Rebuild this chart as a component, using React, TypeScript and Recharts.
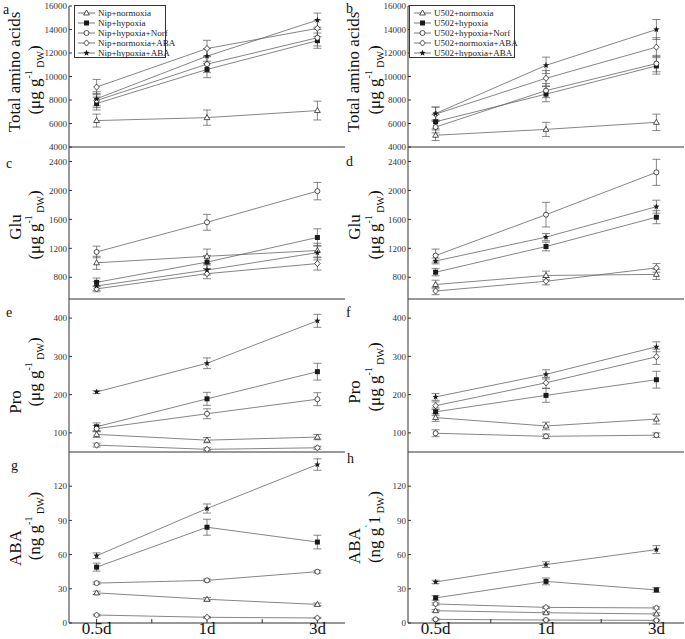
import React from "react";
import { LineChart, Line, XAxis, YAxis, ErrorBar, Legend } from "recharts";

const days = ["0.5d", "1d", "3d"];
const dayPos = [1, 2, 3];
const xTicks = [1, 1.5, 2, 2.5, 3];

const nipNames = ["Nip+normoxia", "Nip+hypoxia", "Nip+hypoxia+Norf", "Nip+normoxia+ABA", "Nip+hypoxia+ABA"];
const u502Names = ["U502+normoxia", "U502+hypoxia", "U502+hypoxia+Norf", "U502+normoxia+ABA", "U502+hypoxia+ABA"];
const shapes = ["triangle", "square", "circle", "diamond", "star"];

// a: Nip total amino acids
const aNormoxia = [6250, 6500, 7100];
const aHypoxia = [7700, 10600, 13050];
const aNorf = [7950, 11050, 13300];
const aNormABA = [9100, 12380, 14100];
const aHypABA = [8100, 11730, 14800];
const aErr = [[550, 650, 800], [550, 700, 650], [600, 700, 700], [650, 700, 700], [600, 650, 600]];

// b: U502 total amino acids
const bNormoxia = [5000, 5500, 6100];
const bHypoxia = [6150, 8500, 10900];
const bNorf = [5700, 8800, 11100];
const bNormABA = [6800, 9850, 12500];
const bHypABA = [6850, 10950, 14000];
const bErr = [[450, 600, 700], [600, 650, 700], [500, 600, 700], [600, 650, 800], [550, 700, 850]];

// c: Nip Glu
const cNormoxia = [1000, 1090, 1170];
const cHypoxia = [730, 1010, 1350];
const cNorf = [1150, 1560, 1990];
const cNormABA = [640, 850, 990];
const cHypABA = [680, 900, 1140];
const cErr = [[90, 100, 100], [60, 90, 120], [80, 110, 120], [40, 70, 90], [60, 70, 100]];

// d: U502 Glu
const dNormoxia = [700, 825, 840];
const dHypoxia = [870, 1225, 1630];
const dNorf = [1100, 1665, 2250];
const dNormABA = [610, 745, 930];
const dHypABA = [1025, 1355, 1775];
const dErr = [[60, 60, 70], [50, 60, 90], [90, 170, 180], [50, 50, 60], [40, 50, 90]];

// e: Nip Pro
const eNormoxia = [96, 81, 89];
const eHypoxia = [116, 189, 260];
const eNorf = [111, 150, 188];
const eNormABA = [68, 57, 61];
const eHypABA = [207, 282, 393];
const eErr = [[8, 7, 7], [10, 17, 22], [8, 13, 17], [5, 4, 4], [4, 14, 17]];

// f: U502 Pro
const fNormoxia = [140, 118, 136];
const fHypoxia = [155, 198, 239];
const fNorf = [99, 91, 94];
const fNormABA = [171, 231, 299];
const fHypABA = [194, 253, 325];
const fErr = [[10, 10, 13], [10, 18, 22], [9, 6, 6], [10, 14, 20], [9, 12, 13]];

// g: Nip ABA
const gNormoxia = [26.4, 20.8, 16.3];
const gHypoxia = [49, 84, 71];
const gNorf = [35, 37.4, 45];
const gNormABA = [7, 5, 4.4];
const gHypABA = [59, 100.4, 139];
const gErr = [[1.5, 1.5, 1.2], [3.5, 7, 6], [1, 1.2, 1.2], [0.8, 0.8, 0.6], [2.5, 4, 5]];

// h: U502 ABA
const hNormoxia = [10.8, 9, 7.9];
const hHypoxia = [22, 36.5, 29];
const hNorf = [3.2, 2.6, 2.3];
const hNormABA = [16.7, 13.7, 13.2];
const hHypABA = [36, 51.2, 64.4];
const hErr = [[1, 1, 1], [2, 3, 2], [0.6, 0.5, 0.5], [1, 1, 1], [1.5, 2.5, 3.5]];

const aminoTicks = [4000, 6000, 8000, 10000, 12000, 14000, 16000];
const gluTicks = [800, 1200, 1600, 2000, 2400];
const proTicks = [100, 200, 300, 400];
const abaTicks = [0, 30, 60, 90, 120];

const serif = "'Liberation Serif', 'Times New Roman', Times, serif";
const ink = "#1a1a1a";

function Marker({ shape, cx, cy }: { shape: string; cx: number; cy: number }) {
  if (shape === "triangle")
    return <polygon points={`${cx},${cy - 3} ${cx - 2.9},${cy + 2} ${cx + 2.9},${cy + 2}`} fill="#fff" stroke={ink} strokeWidth={0.75} />;
  if (shape === "square") return <rect x={cx - 2.5} y={cy - 2.5} width={5} height={5} fill={ink} />;
  if (shape === "circle") return <circle cx={cx} cy={cy} r={2.5} fill="#fff" stroke={ink} strokeWidth={0.75} />;
  if (shape === "diamond")
    return <polygon points={`${cx},${cy - 3.1} ${cx + 2.8},${cy} ${cx},${cy + 3.1} ${cx - 2.8},${cy}`} fill="#fff" stroke={ink} strokeWidth={0.75} />;
  const pts: string[] = [];
  for (let k = 0; k < 10; k++) {
    const r = k % 2 === 0 ? 3.3 : 1.4;
    const a = -Math.PI / 2 + (k * Math.PI) / 5;
    pts.push(`${(cx + r * Math.cos(a)).toFixed(2)},${(cy + r * Math.sin(a)).toFixed(2)}`);
  }
  return <polygon points={pts.join(" ")} fill={ink} />;
}

const dotFor = (shape: string) => (p: any) => {
  if (p.cx == null || p.cy == null) return <g key={p.key} />;
  return (
    <g key={p.key}>
      <Marker shape={shape} cx={p.cx} cy={p.cy} />
    </g>
  );
};

const DayTick = (props: any) => {
  const { x, y, payload } = props;
  const label = Number.isInteger(payload.value) ? days[payload.value - 1] : "";
  return (
    <text x={x} y={y + 11} textAnchor="middle" fontSize={17} fontFamily={serif} fill="#111">
      {label}
    </text>
  );
};

const legendContent = (width: number, pad: number) => (props: any) => (
  <div style={{ border: "1px solid #333", width, height: 53, boxSizing: "border-box", padding: `2px 0 0 ${pad}px`, background: "#fff" }}>
    {(props.payload || []).map((p: any, i: number) => {
      const idx = Number(String(p.dataKey).slice(1));
      return (
        <div key={i} style={{ display: "flex", alignItems: "center", height: 10, fontSize: 9, fontFamily: serif, color: "#222", whiteSpace: "nowrap" }}>
          <svg width={18} height={10} style={{ flex: "none" }}>
            <line x1={0} x2={17} y1={5} y2={5} stroke="#555" strokeWidth={0.8} />
            <Marker shape={shapes[idx]} cx={8.5} cy={5} />
          </svg>
          <span style={{ marginLeft: 2 }}>{p.value}</span>
        </div>
      );
    })}
  </div>
);

type PanelProps = {
  left: number;
  top: number;
  height: number;
  marginTop: number;
  marginBottom: number;
  xHeight: number;
  domain: [number, number];
  yTicks: number[];
  values: number[][];
  errors: number[][];
  names: string[];
  showDays?: boolean;
  legend?: { left: number; width: number; pad: number };
};

const Panel: React.FC<PanelProps> = ({ left, top, height, marginTop, marginBottom, xHeight, domain, yTicks, values, errors, names, showDays, legend }) => {
  const rows = dayPos.map((x, j) => {
    const row: Record<string, number> = { x };
    values.forEach((s, i) => {
      row[`s${i}`] = s[j];
      row[`e${i}`] = errors[i][j];
    });
    return row;
  });
  return (
    <div style={{ position: "absolute", left, top }}>
      <LineChart width={345} height={height} data={rows} margin={{ top: marginTop, right: 0, bottom: marginBottom, left: 0 }}>
        <XAxis
          type="number"
          dataKey="x"
          domain={[0.75, 3.25]}
          ticks={xTicks}
          interval={0}
          height={xHeight}
          stroke="#333"
          tickSize={-4}
          tickMargin={4}
          tick={showDays ? <DayTick /> : false}
        />
        <YAxis
          type="number"
          domain={domain}
          ticks={yTicks}
          interval={0}
          width={69}
          stroke="#333"
          tickSize={-3}
          tickMargin={5}
          allowDataOverflow
          tick={{ fontSize: 9, fill: "#333", fontFamily: serif }}
        />
        {legend && (
          <Legend
            layout="vertical"
            align="center"
            verticalAlign="middle"
            itemSorter="dataKey"
            wrapperStyle={{ left: legend.left, top: 5, width: legend.width, height: 53 }}
            content={legendContent(legend.width, legend.pad)}
          />
        )}
        {values.map((_, i) => (
          <Line
            key={i}
            type="linear"
            dataKey={`s${i}`}
            name={names[i]}
            stroke="#666"
            strokeWidth={0.8}
            dot={dotFor(shapes[i])}
            activeDot={false}
            isAnimationActive={false}
          >
            <ErrorBar dataKey={`e${i}`} width={4} stroke="#555" strokeWidth={0.7} />
          </Line>
        ))}
      </LineChart>
    </div>
  );
};

const YTitle = ({ x, y, text }: { x: number; y: number; text: string }) => (
  <text transform={`translate(${x},${y}) rotate(-90)`} textAnchor="middle" fontSize={17} fontFamily={serif} fill="#111">
    {text}
  </text>
);

const Units = ({ x, y, main, sup, typo }: { x: number; y: number; main: string; sup: string; typo?: boolean }) => (
  <text transform={`translate(${x},${y}) rotate(-90)`} textAnchor="middle" fontSize={17} fontFamily={serif} fill="#111">
    {main}
    {typo ? (
      <>
        <tspan fontSize={10} dy={-7}>`</tspan>
        <tspan dy={7}>1</tspan>
        <tspan fontSize={10} dy={4}> DW</tspan>
        <tspan dy={-4}>)</tspan>
      </>
    ) : (
      <>
        <tspan fontSize={10} dy={-8}>{sup}</tspan>
        <tspan fontSize={10} dy={12}> DW</tspan>
        <tspan dy={-4}>)</tspan>
      </>
    )}
  </text>
);

const Letter = ({ x, y, t }: { x: number; y: number; t: string }) => (
  <text x={x} y={y} fontSize={14} fontFamily={serif} fill="#111">
    {t}
  </text>
);

export default function App() {
  const L = 0;
  const R = 339;
  return (
    <div style={{ position: "absolute", left: 0, top: 0, width: 685, height: 639, background: "#fff", overflow: "hidden" }}>
      <Panel left={L} top={0} height={158} marginTop={6} marginBottom={10} xHeight={1} domain={[4000, 16000]} yTicks={aminoTicks}
        values={[aNormoxia, aHypoxia, aNorf, aNormABA, aHypABA]} errors={aErr} names={nipNames} legend={{ left: 74, width: 92, pad: 3 }} />
      <Panel left={R} top={0} height={158} marginTop={6} marginBottom={10} xHeight={1} domain={[4000, 16000]} yTicks={aminoTicks}
        values={[bNormoxia, bHypoxia, bNorf, bNormABA, bHypABA]} errors={bErr} names={u502Names} legend={{ left: 70, width: 106, pad: 4 }} />
      <Panel left={L} top={147} height={163} marginTop={0} marginBottom={10} xHeight={1} domain={[500, 2600]} yTicks={gluTicks}
        values={[cNormoxia, cHypoxia, cNorf, cNormABA, cHypABA]} errors={cErr} names={nipNames} />
      <Panel left={R} top={147} height={163} marginTop={0} marginBottom={10} xHeight={1} domain={[500, 2600]} yTicks={gluTicks}
        values={[dNormoxia, dHypoxia, dNorf, dNormABA, dHypABA]} errors={dErr} names={u502Names} />
      <Panel left={L} top={299} height={164} marginTop={0} marginBottom={10} xHeight={1} domain={[50, 450]} yTicks={proTicks}
        values={[eNormoxia, eHypoxia, eNorf, eNormABA, eHypABA]} errors={eErr} names={nipNames} />
      <Panel left={R} top={299} height={164} marginTop={0} marginBottom={10} xHeight={1} domain={[50, 450]} yTicks={proTicks}
        values={[fNormoxia, fHypoxia, fNorf, fNormABA, fHypABA]} errors={fErr} names={u502Names} />
      <Panel left={L} top={452} height={187} marginTop={0} marginBottom={0} xHeight={16} domain={[0, 150]} yTicks={abaTicks}
        values={[gNormoxia, gHypoxia, gNorf, gNormABA, gHypABA]} errors={gErr} names={nipNames} showDays />
      <Panel left={R} top={452} height={187} marginTop={0} marginBottom={0} xHeight={16} domain={[0, 150]} yTicks={abaTicks}
        values={[hNormoxia, hHypoxia, hNorf, hNormABA, hHypABA]} errors={hErr} names={u502Names} showDays />

      <svg width={685} height={639} style={{ position: "absolute", left: 0, top: 0, pointerEvents: "none" }}>
        <Letter x={3} y={14} t="a" />
        <Letter x={346} y={13} t="b" />
        <Letter x={6} y={168} t="c" />
        <Letter x={346} y={166} t="d" />
        <Letter x={6} y={317} t="e" />
        <Letter x={346} y={317} t="f" />
        <Letter x={11} y={470} t="g" />
        <Letter x={347} y={463} t="h" />

        <YTitle x={20} y={72} text="Total amino acids" />
        <Units x={40} y={80} main="(μg g" sup="-1" />
        <YTitle x={359} y={72} text="Total amino acids" />
        <Units x={380} y={80} main="(μg g" sup="-1" />

        <YTitle x={21} y={227} text="Glu" />
        <Units x={40} y={225} main="(μg g" sup="-1" />
        <YTitle x={360} y={227} text="Glu" />
        <Units x={380} y={225} main="(μg g" sup="-1" />

        <YTitle x={21} y={402} text="Pro" />
        <Units x={40} y={372} main="(μg g" sup="-1" />
        <YTitle x={360} y={392} text="Pro" />
        <Units x={380} y={377} main="(μg g" sup="-1" />

        <YTitle x={21} y={548} text="ABA" />
        <Units x={40} y={526} main="(ng g" sup="-1" />
        <YTitle x={360} y={546} text="ABA" />
        <Units x={380} y={527} main="(ng g" sup="" typo />
      </svg>
    </div>
  );
}
